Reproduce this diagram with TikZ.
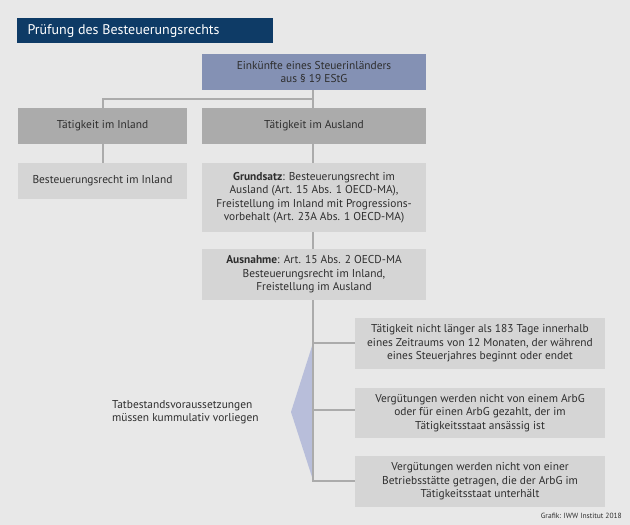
\documentclass[tikz,border=0pt]{standalone}
\usepackage{fontspec}
\setmainfont{PT Sans}
\definecolor{bg}{HTML}{E8E8E8}
\definecolor{navy}{HTML}{0E3B66}
\definecolor{topc}{HTML}{8491B4}
\definecolor{midg}{HTML}{ABABAB}
\definecolor{lightg}{HTML}{D5D5D5}
\definecolor{linec}{HTML}{ABABAB}
\definecolor{tri}{HTML}{B8BEDA}
\definecolor{txt}{HTML}{2E2E2E}
\tikzset{
 bx/.style={inner sep=0pt,align=center,text=txt,font=\fontsize{11.4}{13.4}\selectfont},
 conn/.style={draw=linec,line width=1.5pt}
}
\begin{document}
\begin{tikzpicture}[x=1pt,y=-1pt]
\fill[bg] (0,0) rectangle (630,525);
\useasboundingbox (0,0) rectangle (630,525);
\fill[navy] (17,18) rectangle (273,43);
\node[anchor=west,text=white,font=\fontsize{14}{16}\selectfont] (title) at (24,31) {Prüfung des Besteuerungsrechts};
\fill[tri] (291,412) -- (313,343) -- (313,480) -- cycle;
% boxes
\node[bx,fill=topc,minimum width=224pt,minimum height=36pt] (top) at (314,72) {Einkünfte eines Steuerinländers\\aus § 19 EStG};
\node[bx,fill=midg,minimum width=169pt,minimum height=36pt] (inl) at (102.5,126) {Tätigkeit im Inland};
\node[bx,fill=midg,minimum width=224pt,minimum height=36pt] (ausl) at (314,126) {Tätigkeit im Ausland};
\node[bx,fill=lightg,minimum width=169pt,minimum height=36pt] (bri) at (102.5,181) {Besteuerungsrecht im Inland};
\node[bx,fill=lightg,minimum width=224pt,minimum height=69pt] (grund) at (314,197.5) {\textbf{Grundsatz}: Besteuerungsrecht im\\Ausland (Art. 15 Abs. 1 OECD-MA),\\Freistellung im Inland mit Progressions-\\vorbehalt (Art. 23A Abs. 1 OECD-MA)};
\node[bx,fill=lightg,minimum width=224pt,minimum height=51pt] (aus) at (314,274.5) {\textbf{Ausnahme}: Art. 15 Abs. 2 OECD-MA\\Besteuerungsrecht im Inland,\\Freistellung im Ausland};
\node[bx,fill=lightg,minimum width=250pt,minimum height=51pt] (r1) at (480,343.5) {Tätigkeit nicht länger als 183 Tage innerhalb\\eines Zeitraums von 12 Monaten, der während\\eines Steuerjahres beginnt oder endet};
\node[bx,fill=lightg,minimum width=250pt,minimum height=50pt] (r2) at (480,413) {Vergütungen werden nicht von einem ArbG\\oder für einen ArbG gezahlt, der im\\Tätigkeitsstaat ansässig ist};
\node[bx,fill=lightg,minimum width=250pt,minimum height=51pt] (r3) at (480,481.5) {Vergütungen werden nicht von einer\\Betriebsstätte getragen, die der ArbG im\\Tätigkeitsstaat unterhält};
\node[anchor=west,align=left,text=txt,font=\fontsize{11.4}{13.4}\selectfont,inner sep=0pt] (tat) at (112,412) {Tatbestandsvoraussetzungen\\müssen kummulativ vorliegen};
\node[anchor=east,text=txt,font=\fontsize{7.5}{8}\selectfont,inner sep=0pt] (credit) at (622,516) {Grafik: IWW Institut 2018};
% connectors
\coordinate (j) at (313,99);
\coordinate (jl) at (103,99);
\coordinate (e) at (313,481);
\coordinate (b1) at (313,343);
\coordinate (b2) at (313,410);
\draw[conn] (top.south -| j) -- (ausl.north -| j);
\draw[conn] (j) -- (jl) -- (inl.north -| jl);
\draw[conn] (inl.south -| jl) -- (bri.north -| jl);
\draw[conn] (ausl.south -| j) -- (grund.north -| j);
\draw[conn] (grund.south -| j) -- (aus.north -| j);
\draw[conn] (aus.south -| j) -- (e) -- (r3.west |- e);
\draw[conn] (b1) -- (r1.west |- b1);
\draw[conn] (b2) -- (r2.west |- b2);
\end{tikzpicture}
\end{document}
